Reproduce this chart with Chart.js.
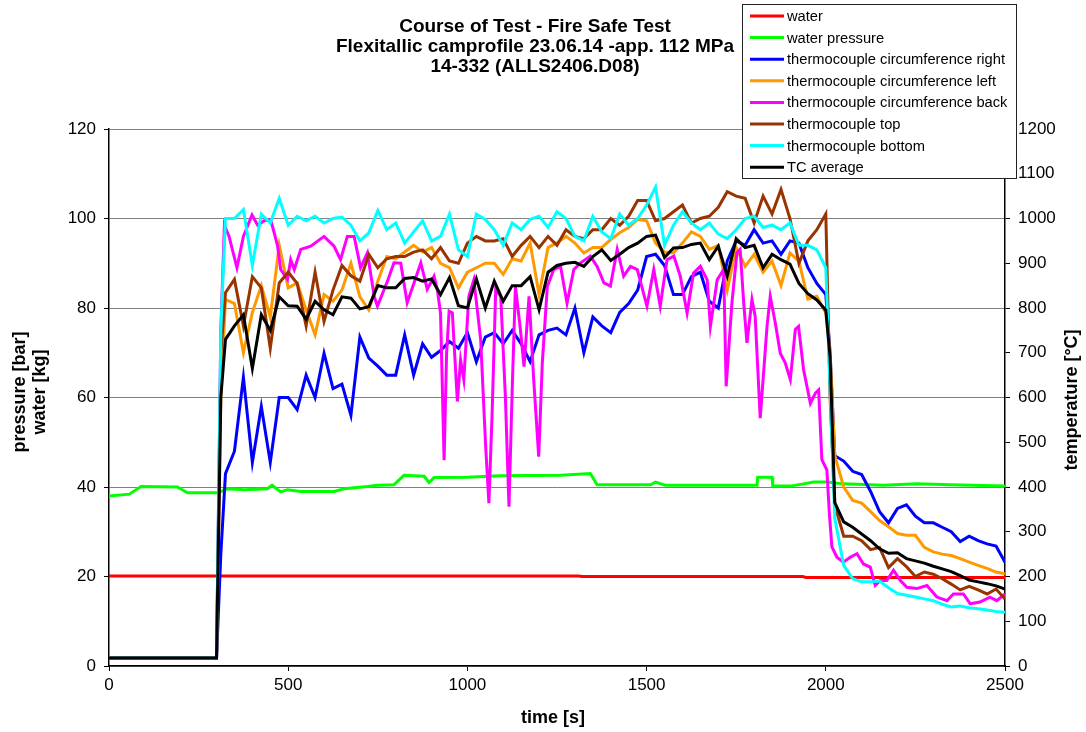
<!DOCTYPE html>
<html>
<head>
<meta charset="utf-8">
<title>Course of Test - Fire Safe Test</title>
<script src="https://cdn.jsdelivr.net/npm/chart.js@4.4.1/dist/chart.umd.min.js"></script>
<style>
  html, body { margin: 0; padding: 0; background: #fff; }
  #wrap { width: 1086px; height: 732px; }
</style>
</head>
<body>
<div id="wrap"><canvas id="fireChart" width="1086" height="732"></canvas></div>
<script>
// Course of test - fire safe test. Pressure/water on the left axis, thermocouples on the right.

const FONT = "'Liberation Sans', Arial, sans-serif";

// water [kg] (left axis)
const timeWater = [0, 1310, 1320, 1935, 1945, 2500];
const water     = [20.1, 20.1, 20.0, 20.0, 19.8, 19.8];

// water pressure [bar] (left axis)
const timePress = [0, 57, 89, 191, 219, 303, 331, 377, 442, 455,
  479, 498, 535, 628, 656, 721, 749, 795, 823, 879,
  893, 907, 1000, 1092, 1260, 1343, 1362, 1511, 1525, 1552,
  1808, 1810, 1850, 1852, 1901, 1938, 1966, 2003, 2049, 2161,
  2254, 2347, 2500];
const waterPressure = [38.0, 38.4, 40.1, 40.0, 38.7, 38.7, 39.6, 39.4, 39.6, 40.4,
  38.9, 39.4, 39.0, 39.0, 39.6, 40.1, 40.4, 40.5, 42.6, 42.4,
  41.0, 42.1, 42.2, 42.5, 42.6, 43.0, 40.5, 40.5, 41.1, 40.4,
  40.4, 42.2, 42.2, 40.2, 40.2, 40.7, 41.1, 41.1, 40.7, 40.4,
  40.7, 40.5, 40.2];

// sample times [s] shared by right / left / top / bottom / average thermocouples
const time = [0, 300, 312,
  325, 350, 375, 400, 425, 450, 475, 500, 525, 550,
  575, 600, 625, 650, 675, 700, 725, 750, 775, 800,
  825, 850, 875, 900, 925, 950, 975, 1000, 1025, 1050,
  1075, 1100, 1125, 1150, 1175, 1200, 1225, 1250, 1275, 1300,
  1325, 1350, 1375, 1400, 1425, 1450, 1475, 1500, 1525, 1550,
  1575, 1600, 1625, 1650, 1675, 1700, 1725, 1750, 1775, 1800,
  1825, 1850, 1875, 1900, 1925, 1950, 1975, 2000,
  2012,
  2025, 2050, 2075, 2100, 2125, 2150, 2175, 2200, 2225, 2250,
  2275, 2300, 2325, 2350, 2375, 2400, 2425, 2450, 2475, 2500];

// temperatures [°C] (right axis)
const tcRight = [18, 18, 250,
  430, 480, 645, 455, 580, 455, 600, 600, 573, 650,
  600, 699, 620, 630, 560, 735, 688, 670, 650, 650,
  740, 650, 720, 690, 705, 725, 710, 745, 680, 735,
  745, 720, 750, 720, 680, 740, 750, 755, 740, 800,
  700, 780, 760, 745, 790, 810, 840, 915, 920, 895,
  830, 830, 870, 880, 815, 800, 905, 950, 940, 975,
  945, 950, 920, 950, 945, 890, 855, 830,
  700,
  470, 458, 435, 428, 390, 345, 320, 352, 360, 335,
  320, 320, 310, 300, 278, 290, 280, 273, 268, 232];

const tcLeft = [18, 18, 600,
  819, 810, 700, 790, 850, 780, 940, 845, 856, 796,
  740, 830, 815, 840, 900, 825, 796, 860, 915, 910,
  925, 940, 925, 935, 900, 890, 845, 880, 890, 900,
  900, 875, 910, 905, 945, 830, 935, 946, 960, 945,
  923, 935, 935, 953, 968, 980, 998, 995, 945, 925,
  923, 945, 970, 960, 931, 940, 840, 935, 893, 920,
  880, 905, 850, 923, 905, 820, 826, 789,
  700,
  470, 400, 370, 364, 345, 325, 311, 296, 292, 292,
  265, 255, 250, 247, 240, 232, 225, 218, 210, 206];

const tcTop = [18, 18, 700,
  834, 864, 760, 870, 845, 710, 856, 880, 855, 760,
  880, 770, 840, 895, 872, 860, 920, 890, 910, 915,
  915, 925, 930, 910, 935, 905, 900, 945, 960, 950,
  950, 955, 915, 940, 960, 935, 960, 940, 975, 960,
  955, 975, 975, 1000, 985, 1005, 1040, 1040, 995, 1000,
  1015, 1030, 990, 1000, 1005, 1025, 1060, 1050, 1045, 990,
  1050, 1010, 1065, 1000, 900, 950, 975, 1010,
  600,
  360, 290, 290, 280, 260, 265, 220, 240, 222, 200,
  210, 205, 195, 183, 170, 178, 170, 161, 172, 150];

const tcBottom = [18, 18, 750,
  1000, 1000, 1020, 895, 1010, 990, 1045, 985, 1005, 995,
  1005, 990, 1000, 1003, 985, 950, 968, 1018, 975, 990,
  945, 970, 995, 950, 960, 1010, 930, 915, 1010, 998,
  975, 940, 990, 975, 998, 1005, 980, 1015, 1000, 960,
  950, 1005, 970, 955, 1010, 985, 1000, 1030, 1070, 940,
  985, 1015, 990, 975, 990, 965, 955, 975, 1000, 1005,
  980, 985, 975, 990, 940, 940, 930, 890,
  620,
  330, 225, 195, 188, 188, 190, 175, 162, 158, 154,
  150, 146, 138, 132, 134, 130, 128, 125, 122, 120];

const tcAverage = [18, 18, 600,
  730, 760, 785, 665, 785, 750, 825, 805, 804, 775,
  815, 796, 785, 825, 822, 798, 803, 850, 845, 845,
  866, 868, 860, 865, 830, 868, 805, 800, 865, 800,
  860, 815, 850, 850, 870, 796, 880, 895, 900, 902,
  893, 915, 930, 906, 920, 935, 945, 960, 963, 913,
  934, 935, 942, 945, 908, 938, 871, 955, 935, 940,
  890, 920, 908, 898, 855, 832, 818, 795,
  690,
  365, 322, 310, 295, 280, 262, 252, 253, 240, 235,
  230, 223, 217, 211, 202, 192, 188, 184, 179, 172];

// circumference back has its own, denser sampling (sharp dips)
const timeBack = [0, 300, 312, 322, 335, 357, 375, 399, 415, 433,
  451, 470, 479, 498, 507, 517, 535, 563, 600, 628,
  646, 665, 684, 702, 721, 740, 749, 777, 795, 814,
  832, 851, 870, 888, 907, 916, 925, 935, 942, 949,
  958, 972, 981, 990, 1004, 1018, 1037, 1051, 1060, 1069,
  1079, 1093, 1106, 1116, 1125, 1134, 1148, 1158, 1172, 1185,
  1199, 1209, 1223, 1241, 1260, 1278, 1297, 1316, 1343, 1362,
  1381, 1399, 1418, 1436, 1455, 1474, 1501, 1520, 1538, 1557,
  1576, 1594, 1613, 1631, 1650, 1669, 1678, 1697, 1715, 1722,
  1738, 1752, 1761, 1771, 1780, 1794, 1803, 1817, 1836, 1845,
  1859, 1873, 1887, 1901, 1915, 1924, 1938, 1957, 1971, 1980,
  1989, 2003, 2010, 2017, 2031, 2049, 2068, 2087, 2105, 2124,
  2138, 2152, 2170, 2189, 2208, 2226, 2254, 2282, 2310, 2338,
  2356, 2384, 2403, 2430, 2458, 2477, 2500];
const tcBack = [18, 18, 750, 985, 960, 890, 960, 1008, 985, 995,
  998, 940, 886, 864, 908, 886, 931, 938, 960, 938,
  908, 960, 960, 890, 923, 826, 804, 860, 901, 900,
  812, 856, 901, 842, 871, 841, 789, 460, 700, 793,
  789, 591, 684, 640, 826, 863, 730, 490, 364, 565,
  841, 826, 602, 356, 617, 848, 751, 669, 826, 640,
  468, 677, 848, 886, 893, 811, 886, 901, 916, 893,
  856, 849, 931, 871, 893, 886, 804, 886, 804, 908,
  916, 871, 789, 878, 893, 863, 759, 863, 886, 625,
  811, 923, 931, 811, 722, 819, 781, 554, 759, 826,
  767, 699, 677, 640, 752, 759, 662, 587, 610, 617,
  461, 438, 340, 266, 243, 232, 243, 251, 228, 221,
  180, 191, 191, 214, 191, 176, 173, 180, 154, 146,
  161, 161, 139, 143, 154, 146, 161];

const titleLines = ['Course of Test - Fire Safe Test',
  'Flexitallic camprofile 23.06.14 -app. 112 MPa',
  '14-332 (ALLS2406.D08)'];

const pts = (xs, ys) => xs.map((x, i) => ({ x, y: ys[i] }));

function series(label, color, xs, ys, axis, order) {
  return {
    label, data: pts(xs, ys), yAxisID: axis, order,
    borderColor: color, backgroundColor: color,
    borderWidth: 3, pointRadius: 0, tension: 0, fill: false
  };
}

// legend box in the top right corner, like the original
const legendBox = {
  id: 'legendBox',
  afterDraw(chart) {
    const { ctx } = chart;
    ctx.save();
    ctx.fillStyle = '#fff';
    ctx.fillRect(742.5, 4.5, 274, 174);
    ctx.strokeStyle = '#222';
    ctx.lineWidth = 1;
    ctx.strokeRect(742.5, 4.5, 274, 174);
    ctx.font = '14.7px ' + FONT;
    ctx.textBaseline = 'middle';
    chart.data.datasets.forEach((ds, i) => {
      const cy = 16 + i * 21.6;
      ctx.strokeStyle = ds.borderColor;
      ctx.lineWidth = 3;
      ctx.beginPath();
      ctx.moveTo(750, cy);
      ctx.lineTo(784, cy);
      ctx.stroke();
      ctx.fillStyle = '#000';
      ctx.fillText(ds.label, 787, cy + 1);
    });
    ctx.restore();
  }
};

// chart title and axis titles
const titles = {
  id: 'titles',
  afterDraw(chart) {
    const { ctx } = chart;
    ctx.save();
    ctx.fillStyle = '#000';
    ctx.textAlign = 'center';
    ctx.textBaseline = 'middle';
    ctx.font = 'bold 19px ' + FONT;
    titleLines.forEach((t, i) => ctx.fillText(t, 535, 27 + i * 20));

    ctx.font = 'bold 18px ' + FONT;
    ctx.fillText('time [s]', 553, 718);

    ctx.translate(20, 392);
    ctx.rotate(-Math.PI / 2);
    ctx.fillText('pressure [bar]', 0, 0);
    ctx.fillText('water [kg]', 0, 20);
    ctx.restore();

    ctx.save();
    ctx.fillStyle = '#000';
    ctx.textAlign = 'center';
    ctx.textBaseline = 'middle';
    ctx.font = 'bold 18px ' + FONT;
    ctx.translate(1072, 400);
    ctx.rotate(-Math.PI / 2);
    ctx.fillText('temperature [°C]', 0, 0);
    ctx.restore();
  }
};

const tickFont = { size: 17, family: FONT };
const plain = v => String(v);

new Chart(document.getElementById('fireChart'), {
  type: 'line',
  data: {
    datasets: [
      series('water', '#ff0000', timeWater, water, 'y', 8),
      series('water pressure', '#00ff00', timePress, waterPressure, 'y', 7),
      series('thermocouple circumference right', '#0000ff', time, tcRight, 'y2', 6),
      series('thermocouple circumference left', '#ff9900', time, tcLeft, 'y2', 5),
      series('thermocouple circumference back', '#ff00ff', timeBack, tcBack, 'y2', 4),
      series('thermocouple top', '#993300', time, tcTop, 'y2', 3),
      series('thermocouple bottom', '#00ffff', time, tcBottom, 'y2', 2),
      series('TC average', '#000000', time, tcAverage, 'y2', 1)
    ]
  },
  options: {
    responsive: false,
    animation: false,
    events: [],
    devicePixelRatio: 1,
    layout: { padding: { top: 129, left: 0, right: 0, bottom: 0 } },
    plugins: { legend: { display: false }, title: { display: false }, tooltip: { enabled: false } },
    scales: {
      x: {
        type: 'linear', min: 0, max: 2500,
        ticks: { stepSize: 500, color: '#000', font: tickFont, padding: 4, maxRotation: 0, callback: plain },
        grid: { drawOnChartArea: false, tickColor: '#000', tickLength: 5 },
        border: { color: '#000', width: 1.5 },
        afterFit(scale) { scale.height = 66; }
      },
      y: {
        type: 'linear', position: 'left', min: 0, max: 120,
        ticks: { stepSize: 20, color: '#000', font: tickFont, padding: 8, callback: plain },
        grid: { color: '#808080', lineWidth: 1, tickColor: '#000', tickLength: 5 },
        border: { color: '#000', width: 1.5 },
        afterFit(scale) { scale.width = 109; }
      },
      y2: {
        type: 'linear', position: 'right', min: 0, max: 1200,
        ticks: { stepSize: 100, color: '#000', font: tickFont, padding: 8, callback: plain },
        grid: { drawOnChartArea: false, tickColor: '#000', tickLength: 5 },
        border: { color: '#000', width: 1.5 },
        afterFit(scale) { scale.width = 81; }
      }
    }
  },
  plugins: [legendBox, titles]
});
</script>
</body>
</html>
